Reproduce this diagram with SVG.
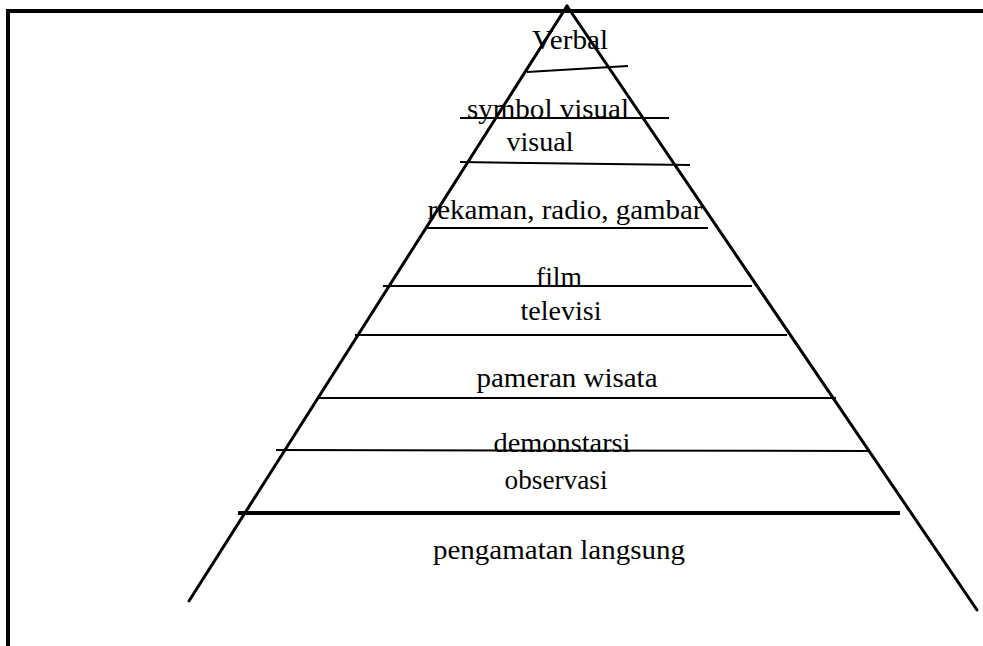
<svg xmlns="http://www.w3.org/2000/svg" width="983" height="646" viewBox="0 0 983 646">
<style>
.t{font-family:"Liberation Serif","Times New Roman",serif;font-size:28px;fill:#000;text-anchor:middle}
.b{stroke:#000;stroke-width:2;fill:none}
.k{stroke:#000;stroke-width:3;fill:none;stroke-linecap:round}
</style>
<rect width="983" height="646" fill="#fff"/>
<g id="frame">
<path d="M8,646 V11 H983" stroke="#000" stroke-width="4" fill="none"/>
</g>
<g id="pyramid">
<line class="k" x1="567" y1="6" x2="189" y2="601"/>
<line class="k" x1="567" y1="6" x2="977" y2="610"/>
</g>
<g id="connectors">
<line class="b" x1="527" y1="72" x2="628" y2="66"/>
<line class="b" x1="460" y1="118" x2="669" y2="118"/>
<line class="b" x1="460" y1="162" x2="690" y2="165"/>
<line class="b" x1="425" y1="228" x2="708" y2="228"/>
<line class="b" x1="383" y1="286" x2="752" y2="286"/>
<line class="b" x1="355" y1="335" x2="787" y2="335"/>
<line class="b" x1="318" y1="398" x2="836" y2="398"/>
<line class="b" x1="276" y1="450" x2="870" y2="451"/>
<line stroke="#000" stroke-width="4" x1="238" y1="513" x2="900" y2="513"/>
</g>
<g id="n-verbal"><text class="t" x="570" y="49" textLength="76" lengthAdjust="spacingAndGlyphs">Verbal</text></g>
<g id="n-symbol-visual"><text class="t" x="548" y="118" textLength="162" lengthAdjust="spacingAndGlyphs">symbol visual</text></g>
<g id="n-visual"><text class="t" x="540" y="151" textLength="67" lengthAdjust="spacingAndGlyphs">visual</text></g>
<g id="n-rekaman"><text class="t" x="565" y="219" textLength="275" lengthAdjust="spacingAndGlyphs">rekaman, radio, gambar</text></g>
<g id="n-film"><text class="t" x="559" y="286" textLength="46" lengthAdjust="spacingAndGlyphs">film</text></g>
<g id="n-televisi"><text class="t" x="561" y="320" textLength="81" lengthAdjust="spacingAndGlyphs">televisi</text></g>
<g id="n-pameran"><text class="t" x="567" y="387" textLength="181" lengthAdjust="spacingAndGlyphs">pameran wisata</text></g>
<g id="n-demonstarsi"><text class="t" x="562" y="452" textLength="137" lengthAdjust="spacingAndGlyphs">demonstarsi</text></g>
<g id="n-observasi"><text class="t" x="556" y="489" textLength="103" lengthAdjust="spacingAndGlyphs">observasi</text></g>
<g id="n-pengamatan"><text class="t" x="559" y="559" textLength="252" lengthAdjust="spacingAndGlyphs">pengamatan langsung</text></g>
</svg>
